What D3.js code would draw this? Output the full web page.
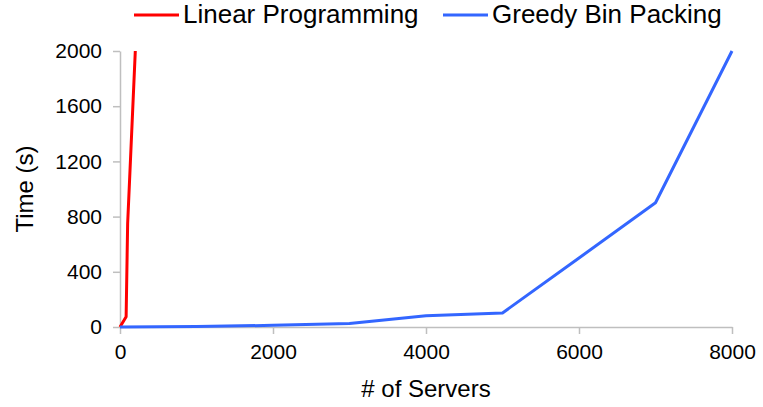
<!DOCTYPE html>
<html lang="en">
<head>
    <meta charset="UTF-8">
    <title>Time vs Servers</title>
    <script src="https://cdn.jsdelivr.net/npm/d3@7"></script>
    <style>
        body { margin: 0; background: #fff; }
        svg { font-family: "Liberation Sans", Arial, sans-serif; }
        .axis path, .axis line { stroke: #bfbfbf; stroke-width: 1.5px; }
        .axis text { fill: #000; font-size: 21px; }
    </style>
</head>
<body>
    <svg width="763" height="407"></svg>
    <script>
        // Data
        const lpServers = [0, 80, 100, 200];
        const lpTime = [0, 75, 750, 2000];
        const greedyServers = [0, 1000, 2000, 3000, 4000, 5000, 6000, 7000, 8000];
        const greedyTime = [0, 3, 12, 25, 82, 102, 500, 900, 2000];
        const xTicks = [0, 2000, 4000, 6000, 8000];
        const yTicks = [0, 400, 800, 1200, 1600, 2000];

        const series = [
            { name: "Linear Programming", color: "#ff0000", xs: lpServers, ys: lpTime },
            { name: "Greedy Bin Packing", color: "#3366ff", xs: greedyServers, ys: greedyTime }
        ];

        const svg = d3.select("svg");
        const margin = { left: 120, right: 31, top: 51, bottom: 80 };
        const width = 763, height = 407;

        const x = d3.scaleLinear().domain([0, 8000]).range([margin.left, width - margin.right]);
        const y = d3.scaleLinear().domain([0, 2000]).range([height - margin.bottom, margin.top]);

        // Axes
        svg.append("g")
            .attr("class", "axis")
            .attr("transform", `translate(0,${y(0)})`)
            .call(d3.axisBottom(x).tickValues(xTicks).tickFormat(d3.format("d"))
                .tickSizeInner(7).tickSizeOuter(0).tickPadding(10));

        svg.append("g")
            .attr("class", "axis")
            .attr("transform", `translate(${x(0)},0)`)
            .call(d3.axisLeft(y).tickValues(yTicks).tickFormat(d3.format("d"))
                .tickSizeInner(7).tickSizeOuter(0).tickPadding(11));

        // Axis titles
        svg.append("text")
            .attr("x", (x(0) + x(8000)) / 2)
            .attr("y", 397)
            .attr("text-anchor", "middle")
            .style("font-size", "24px")
            .text("# of Servers");

        svg.append("text")
            .attr("transform", `translate(33,${(y(0) + y(2000)) / 2}) rotate(-90)`)
            .attr("text-anchor", "middle")
            .style("font-size", "24px")
            .text("Time (s)");

        // Lines
        const line = d3.line().x(d => x(d[0])).y(d => y(d[1]));
        series.forEach(s => {
            svg.append("path")
                .datum(s.xs.map((v, i) => [v, s.ys[i]]))
                .attr("fill", "none")
                .attr("stroke", s.color)
                .attr("stroke-width", 3)
                .attr("stroke-linejoin", "round")
                .attr("d", line);
        });

        // Legend
        const legendX = [134, 443];
        const legend = svg.append("g").selectAll("g")
            .data(series)
            .enter().append("g")
            .attr("transform", (d, i) => `translate(${legendX[i]},15)`);

        legend.append("line")
            .attr("x1", 0).attr("x2", 45)
            .attr("stroke", d => d.color)
            .attr("stroke-width", 3);

        legend.append("text")
            .attr("x", 49)
            .attr("y", 8)
            .style("font-size", "26px")
            .text(d => d.name);
    </script>
</body>
</html>
